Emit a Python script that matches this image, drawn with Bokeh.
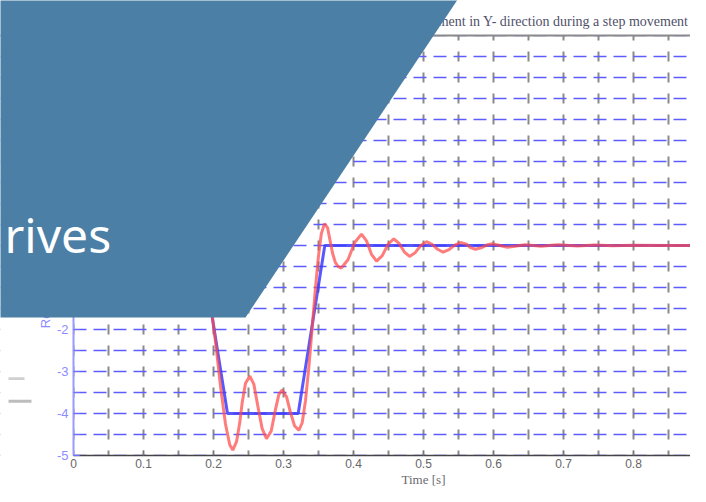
import math
from bokeh.plotting import figure
from bokeh.models import (Range1d, SingleIntervalTicker, FixedTicker, Label,
                          PolyAnnotation, Span, BoxAnnotation)
from bokeh.embed import file_html
from bokeh.resources import INLINE

# ---------------- data ----------------
ref_t = [0.000, 0.182, 0.220, 0.321, 0.359, 1.000]
ref_v = [0.0, 0.0, -4.0, -4.0, 0.0, 0.0]

act_t = [0.000, 0.180, 0.186, 0.192, 0.198, 0.204, 0.210, 0.2171, 0.2233, 0.2276,
         0.2329, 0.2376, 0.2410, 0.2457, 0.2519,
         0.2576, 0.2633, 0.2695, 0.2757,
         0.2824, 0.2886, 0.2933, 0.2981,
         0.3043, 0.3100, 0.3157, 0.3219,
         0.3267, 0.3314, 0.3362, 0.3410, 0.3457, 0.3500, 0.3540, 0.3586,
         0.3630, 0.3665, 0.3700, 0.3740, 0.3780, 0.3824,
         0.3921, 0.4017, 0.4114,
         0.4186, 0.4257, 0.4329,
         0.4411, 0.4494, 0.4576,
         0.4651, 0.4725, 0.4800,
         0.4881, 0.4962, 0.5043,
         0.5122, 0.5202, 0.5281,
         0.5364, 0.5446, 0.5529,
         0.5614, 0.5671, 0.5743,
         0.5822, 0.5902, 0.5981,
         0.6090, 0.6200, 0.6330, 0.6450, 0.6570, 0.6680, 0.6800, 0.6920,
         0.7200, 0.7450, 0.7700, 0.8000, 0.8500, 1.0000]
act_v = [0.00, 0.00, -0.35, -1.00, -1.65, -2.45, -3.35, -4.25, -4.75, -4.87,
         -4.67, -4.21, -3.74, -3.28, -3.11,
         -3.30, -3.82, -4.36, -4.60,
         -4.42, -3.90, -3.55, -3.44,
         -3.60, -3.98, -4.29, -4.40,
         -4.22, -3.70, -2.90, -1.95, -1.00, -0.25, 0.28, 0.52,
         0.42, 0.12, -0.18, -0.40, -0.50, -0.54,
         -0.34, 0.07, 0.27,
         0.11, -0.21, -0.37,
         -0.24, 0.03, 0.16,
         0.05, -0.15, -0.26,
         -0.17, 0.00, 0.09,
         0.03, -0.09, -0.16,
         -0.10, 0.01, 0.07,
         0.03, -0.05, -0.09,
         -0.055, 0.01, 0.04,
         0.00, -0.04, -0.01, 0.02, 0.00, -0.02, 0.00, 0.015,
         -0.01, 0.01, -0.005, 0.005, 0.0, 0.0]

x_ticks = [0, 0.1, 0.2, 0.3, 0.4, 0.5, 0.6, 0.7, 0.8, 0.9]
x_tick_labels = ["0", "0.1", "0.2", "0.3", "0.4", "0.5", "0.6", "0.7", "0.8", "0.9"]
y_ticks = [-5, -4, -3, -2, -1, 0, 1, 2, 3, 4, 5]
y_tick_labels = ["-5", "-4", "-3", "-2", "-1", "0", "1", "2", "3", "4", "5"]

title_text = "Displacement in Y- direction during a step movement"
x_label_text = "Time [s]"
y_label_text = "Relative displacement [µm]"
banner_text = "rives"

# ---------------- layout ----------------
W, H = 690, 486
FRAME_L, FRAME_T, FRAME_B = 73.0, 35.0, 455.0
PX_PER_T = 700.0
PX_PER_V = (FRAME_B - FRAME_T) / 10.0
REF_PX_PER_V = 42.9          # vertical scale of the reference picture


def dx(px):                  # canvas x pixel -> time
    return (px - FRAME_L) / PX_PER_T


def dy(py):                  # canvas y pixel -> value
    return 5.0 - (py - FRAME_T) / PX_PER_V


def dy_ref(py):              # reference y pixel -> value
    return 5.0 - (py - FRAME_T) / REF_PX_PER_V


X_START, X_END = dx(0), dx(W)
Y_START, Y_END = dy(H), dy(0)

p = figure(width=W, height=H, output_backend="svg", toolbar_location=None,
           title=None,
           x_range=Range1d(X_START, X_END), y_range=Range1d(Y_START, Y_END),
           min_border=0, min_border_left=0, min_border_right=0,
           min_border_top=0, min_border_bottom=0,
           background_fill_color="white", border_fill_color="white")
p.outline_line_color = None

# grids
p.xgrid.ticker = SingleIntervalTicker(interval=0.05)
p.xgrid.grid_line_color = "#8a8a8a"
p.xgrid.grid_line_width = 2
p.xgrid.grid_line_dash = "10 11"
p.xgrid.grid_line_dash_offset = 16
p.ygrid.ticker = SingleIntervalTicker(interval=0.5)
p.ygrid.grid_line_color = "#5c5cff"
p.ygrid.grid_line_width = 1.6
p.ygrid.grid_line_dash = "13 7"
p.ygrid.grid_line_dash_offset = 7

# white masks so that grid lines stay inside the plotting box
for l, r, b, t in [(X_START, 0, Y_START, Y_END),
                   (X_START, X_END, 5, Y_END),
                   (X_START, X_END, Y_START, -5)]:
    p.add_layout(BoxAnnotation(left=l, right=r, bottom=b, top=t, level="underlay",
                               fill_color="white", fill_alpha=1.0, line_color=None))

# x axis (fixed at v=-5)
p.xaxis.fixed_location = -5
p.xaxis.bounds = (0, 1)
p.xaxis.ticker = FixedTicker(ticks=x_ticks, minor_ticks=[])
p.xaxis.major_label_overrides = dict(zip(x_ticks, x_tick_labels))
p.xaxis.axis_line_color = "#444444"
p.xaxis.axis_line_width = 1.5
p.xaxis.major_tick_in = 5
p.xaxis.major_tick_out = 0
p.xaxis.major_tick_line_color = "#777777"
p.xaxis.minor_tick_line_color = None
p.xaxis.major_label_text_font = "Liberation Sans"
p.xaxis.major_label_text_font_size = "12px"
p.xaxis.major_label_text_color = "#666666"
p.xaxis.major_label_standoff = 3

# y axis (fixed at t=0)
p.yaxis.fixed_location = 0
p.yaxis.bounds = (-5, 5)
p.yaxis.ticker = SingleIntervalTicker(interval=1, num_minor_ticks=2)
p.yaxis.major_label_overrides = dict(zip(y_ticks, y_tick_labels))
p.yaxis.axis_line_color = "#9a9aff"
p.yaxis.axis_line_width = 2
p.yaxis.major_tick_in = 6
p.yaxis.major_tick_out = 0
p.yaxis.minor_tick_in = 6
p.yaxis.minor_tick_out = 0
p.yaxis.major_tick_line_color = "#6f6fff"
p.yaxis.minor_tick_line_color = "#6f6fff"
p.yaxis.major_label_text_font = "Liberation Sans"
p.yaxis.major_label_text_font_size = "13px"
p.yaxis.major_label_text_color = "#8c8cff"
p.yaxis.major_label_standoff = 5

# top border
p.add_layout(Span(location=5, dimension="width", line_color="#8a8a8a", line_width=2))

# series
p.line(ref_t, ref_v, line_color="#3b3bff", line_width=3, line_alpha=0.85)
p.line(act_t, act_v, line_color="#ff4a4a", line_width=3, line_alpha=0.72)

# texts
p.add_layout(Label(x=dx(688), y=dy_ref(20.5), text=title_text, text_align="right",
                   text_baseline="alphabetic", text_font="Liberation Serif",
                   text_font_size="14px", text_color="#50506a"))
p.add_layout(Label(x=dx(423), y=dy(479), text=x_label_text, text_align="center",
                   text_baseline="alphabetic", text_font="Liberation Serif",
                   text_font_size="13px", text_color="#6a6a70"))
p.add_layout(Label(x=dx(45), y=dy_ref(334), text=y_label_text, angle=math.pi / 2,
                   text_align="left", text_baseline="middle",
                   text_font="Liberation Sans", text_font_size="13px",
                   text_color="#8c8cff"))

# faint legend fragments at the far left
p.add_layout(BoxAnnotation(left=dx(8), right=dx(24), top=dy_ref(384), bottom=dy_ref(387),
                           fill_color="#d0d0d0", fill_alpha=1.0, line_color=None))
p.add_layout(BoxAnnotation(left=dx(8), right=dx(31), top=dy_ref(407), bottom=dy_ref(410),
                           fill_color="#bdbdbd", fill_alpha=1.0, line_color=None))

# overlay banner
p.add_layout(PolyAnnotation(xs=[dx(-2), dx(458), dx(245), dx(-2)],
                            ys=[dy_ref(-3), dy_ref(-3), dy_ref(323), dy_ref(323)],
                            fill_color="#4b7fa6", fill_alpha=1.0, line_color=None,
                            level="overlay"))
p.add_layout(Label(x=dx(4), y=dy_ref(238), text=banner_text, text_align="left",
                   text_baseline="alphabetic", text_font="Noto Sans",
                   text_font_size="48px", text_color="white", level="overlay"))

open("out.html", "w").write(file_html(p, INLINE))
